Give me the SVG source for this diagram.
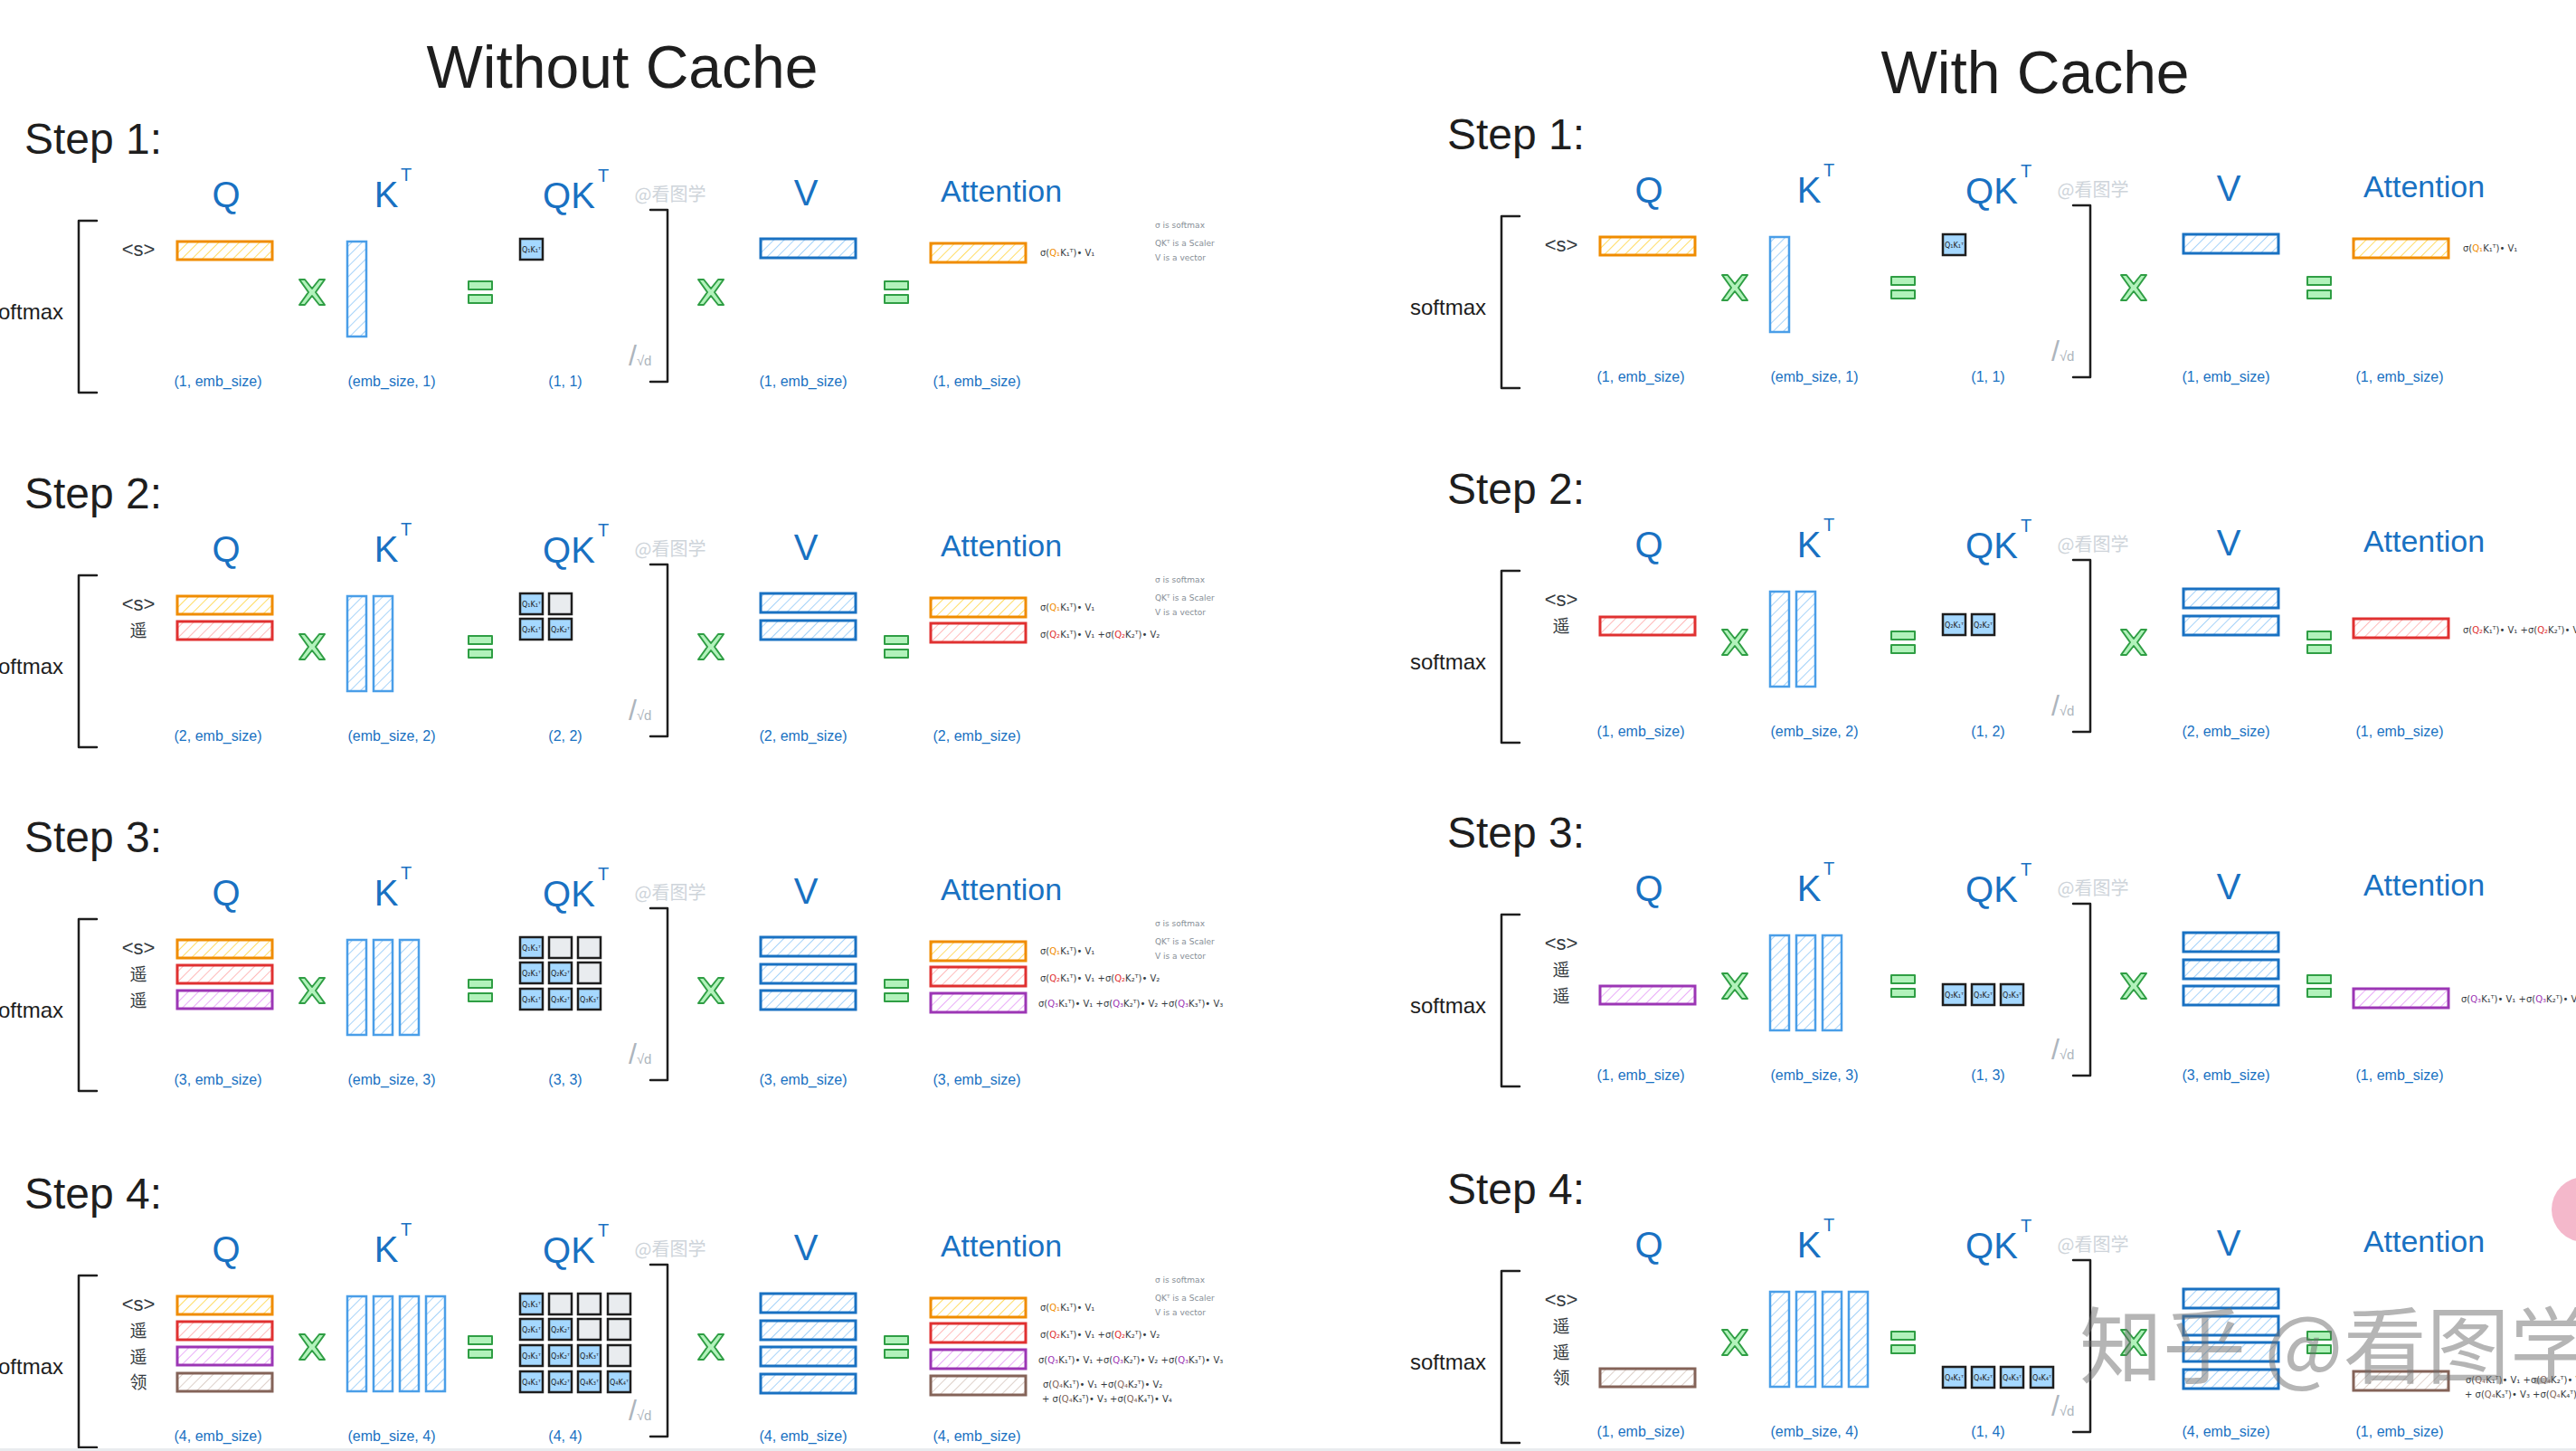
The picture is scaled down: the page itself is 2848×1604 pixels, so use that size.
<svg xmlns="http://www.w3.org/2000/svg" width="2848" height="1604" viewBox="0 0 2848 1604">
<style>
text{font-family:"Liberation Sans",Arial,sans-serif}
.title{font-size:66px;fill:#1e1e1e;text-anchor:middle}
.step{font-size:48px;fill:#1e1e1e}
.hdr{font-size:40px;fill:#1971c2;text-anchor:middle}
.att{font-size:34px}
.sup{font-size:20px;fill:#1971c2}
.wm{font-family:"Noto Sans CJK SC",sans-serif;font-size:20px;fill:#ced4da;text-anchor:middle}
.tok{font-size:22px;fill:#343a40;text-anchor:middle}
.cjk{font-family:"Noto Sans CJK SC",sans-serif;font-size:19px}
.dim{font-size:16px;fill:#1971c2;text-anchor:middle}
.sm{font-size:24px;fill:#1e1e1e;text-anchor:end}
.sq{fill:#adb5bd}
.brk{fill:none;stroke:#1e1e1e;stroke-width:2.5;stroke-linecap:round;stroke-linejoin:round}
.op{fill:#b2f2bb;stroke:#2f9e44;stroke-width:2;stroke-linejoin:round}
.bO{fill:url(#hO);stroke:#f08c00;stroke-width:3}
.bR{fill:url(#hR);stroke:#e03131;stroke-width:3}
.bP{fill:url(#hP);stroke:#9c36b5;stroke-width:3}
.bN{fill:url(#hN);stroke:#846358;stroke-width:3}
.bK{fill:url(#hB);stroke:#4a9ee8;stroke-width:2.5}
.bV{fill:url(#hB);stroke:#1971c2;stroke-width:3}
.cf{fill:#a5d8ff;stroke:#1e1e1e;stroke-width:2.5}
.ce{fill:#e9ecef;stroke:#1e1e1e;stroke-width:2.5}
.ct{font-family:"DejaVu Sans",sans-serif;font-size:8px;fill:#1e1e1e;text-anchor:middle}
.f{font-family:"DejaVu Sans",sans-serif;font-size:10px;fill:#343a40}
.note{font-family:"DejaVu Sans",sans-serif;font-size:9px;fill:#868e96}
.qo{fill:#f08c00}.qr{fill:#e03131}.qp{fill:#9c36b5}.qn{fill:#846358}
.big{font-family:"Noto Sans CJK SC",sans-serif;font-size:92px;fill:#6c6c6c;fill-opacity:0.5}
</style>
<defs>
<pattern id="hO" width="8" height="8" patternUnits="userSpaceOnUse" patternTransform="rotate(45)"><rect width="8" height="8" fill="#fff"/><line x1="0" y1="0" x2="0" y2="8" stroke="#ffd43b" stroke-width="1.6"/></pattern>
<pattern id="hR" width="8" height="8" patternUnits="userSpaceOnUse" patternTransform="rotate(45)"><rect width="8" height="8" fill="#fff"/><line x1="0" y1="0" x2="0" y2="8" stroke="#ffa8a8" stroke-width="1.6"/></pattern>
<pattern id="hP" width="8" height="8" patternUnits="userSpaceOnUse" patternTransform="rotate(45)"><rect width="8" height="8" fill="#fff"/><line x1="0" y1="0" x2="0" y2="8" stroke="#e599f7" stroke-width="1.6"/></pattern>
<pattern id="hN" width="8" height="8" patternUnits="userSpaceOnUse" patternTransform="rotate(45)"><rect width="8" height="8" fill="#fff"/><line x1="0" y1="0" x2="0" y2="8" stroke="#d5c4bc" stroke-width="1.6"/></pattern>
<pattern id="hB" width="8" height="8" patternUnits="userSpaceOnUse" patternTransform="rotate(45)"><rect width="8" height="8" fill="#fff"/><line x1="0" y1="0" x2="0" y2="8" stroke="#90c8f8" stroke-width="1.6"/></pattern>
<path id="mul" class="op" d="M-14,-14 L-8,-14 L0,-4 L8,-14 L14,-14 L4,0 L14,14 L8,14 L0,4 L-8,14 L-14,14 L-4,0 Z"/>
<path id="eq" class="op" d="M-13,-12 H13 V-3 H-13 Z M-13,3 H13 V12 H-13 Z"/>
</defs>
<rect width="2848" height="1604" fill="#ffffff"/>

<text id="title-without" class="title" x="688" y="97">Without Cache</text>
<text id="title-with" class="title" x="2250" y="103">With Cache</text>

<!-- ===================== WITHOUT CACHE ===================== -->
<g id="without-cache">

<g id="L-step1">
<text class="step" x="27" y="170">Step 1:</text>
<g id="L1-headers"><text class="hdr" x="250" y="229">Q</text><text class="hdr" x="427" y="229">K</text><text class="sup" x="443" y="200">T</text><text class="hdr" x="629" y="230">QK</text><text class="sup" x="661" y="201">T</text><text class="wm" x="741" y="222">@看图学</text><text class="hdr" x="891" y="227">V</text><text class="hdr att" x="1107" y="223">Attention</text></g>
<g id="L1-softmax"><path class="brk" d="M107,244 H87 V434 H107"/><text class="sm" x="70" y="353">softmax</text><path class="brk" d="M719,232 H738 V422 H719"/><text class="sq" x="695" y="404"><tspan font-size="32">/</tspan><tspan font-size="15">√d</tspan></text></g>
<g id="L1-tokens"><text class="tok" x="153" y="283">&lt;s&gt;</text></g>
<g id="L1-Q"><rect class="bO" x="196" y="267" width="105" height="20"/></g>
<g id="L1-mul1"><use href="#mul" x="345" y="323"/></g>
<g id="L1-K"><rect class="bK" x="384" y="267" width="21" height="105"/></g>
<g id="L1-eq1"><use href="#eq" x="531" y="323"/></g>
<g id="L1-QK"><rect class="cf" x="575" y="264" width="25" height="23"/><text class="ct" x="587.5" y="279">Q₁K₁ᵀ</text></g>
<g id="L1-mul2"><use href="#mul" x="786" y="323"/></g>
<g id="L1-V"><rect class="bV" x="841" y="264" width="105" height="21"/></g>
<g id="L1-eq2"><use href="#eq" x="991" y="323"/></g>
<g id="L1-Att"><rect class="bO" x="1029" y="269" width="105" height="21"/></g>
<g id="L1-formula"><text class="f" x="1150" y="283">σ(<tspan class="qo">Q₁</tspan>K₁ᵀ)• V₁</text></g>
<g id="L1-notes"><text class="note" x="1277" y="252">σ is softmax</text><text class="note" x="1277" y="272">QKᵀ is a Scaler</text><text class="note" x="1277" y="288">V is a vector</text></g>
<g id="L1-dims"><text class="dim" x="241" y="427">(1, emb_size)</text><text class="dim" x="433" y="427">(emb_size, 1)</text><text class="dim" x="625" y="427">(1, 1)</text><text class="dim" x="888" y="427">(1, emb_size)</text><text class="dim" x="1080" y="427">(1, emb_size)</text></g>
</g>

<g id="L-step2" transform="translate(0,392)">
<text class="step" x="27" y="170">Step 2:</text>
<g id="L2-headers"><text class="hdr" x="250" y="229">Q</text><text class="hdr" x="427" y="229">K</text><text class="sup" x="443" y="200">T</text><text class="hdr" x="629" y="230">QK</text><text class="sup" x="661" y="201">T</text><text class="wm" x="741" y="222">@看图学</text><text class="hdr" x="891" y="227">V</text><text class="hdr att" x="1107" y="223">Attention</text></g>
<g id="L2-softmax"><path class="brk" d="M107,244 H87 V434 H107"/><text class="sm" x="70" y="353">softmax</text><path class="brk" d="M719,232 H738 V422 H719"/><text class="sq" x="695" y="404"><tspan font-size="32">/</tspan><tspan font-size="15">√d</tspan></text></g>
<g id="L2-tokens"><text class="tok" x="153" y="283">&lt;s&gt;</text><text class="tok cjk" x="153" y="312">遥</text></g>
<g id="L2-Q"><rect class="bO" x="196" y="267" width="105" height="20"/><rect class="bR" x="196" y="295" width="105" height="20"/></g>
<g id="L2-mul1"><use href="#mul" x="345" y="323"/></g>
<g id="L2-K"><rect class="bK" x="384" y="267" width="21" height="105"/><rect class="bK" x="413" y="267" width="21" height="105"/></g>
<g id="L2-eq1"><use href="#eq" x="531" y="323"/></g>
<g id="L2-QK">
<rect class="cf" x="575" y="264" width="25" height="23"/><text class="ct" x="587.5" y="279">Q₁K₁ᵀ</text><rect class="ce" x="607" y="264" width="25" height="23"/>
<rect class="cf" x="575" y="292" width="25" height="23"/><text class="ct" x="587.5" y="307">Q₂K₁ᵀ</text><rect class="cf" x="607" y="292" width="25" height="23"/><text class="ct" x="619.5" y="307">Q₂K₂ᵀ</text>
</g>
<g id="L2-mul2"><use href="#mul" x="786" y="323"/></g>
<g id="L2-V"><rect class="bV" x="841" y="264" width="105" height="21"/><rect class="bV" x="841" y="294" width="105" height="21"/></g>
<g id="L2-eq2"><use href="#eq" x="991" y="323"/></g>
<g id="L2-Att"><rect class="bO" x="1029" y="269" width="105" height="21"/><rect class="bR" x="1029" y="297" width="105" height="21"/></g>
<g id="L2-formula"><text class="f" x="1150" y="283">σ(<tspan class="qo">Q₁</tspan>K₁ᵀ)• V₁</text><text class="f" x="1150" y="313">σ(<tspan class="qr">Q₂</tspan>K₁ᵀ)• V₁ +σ(<tspan class="qr">Q₂</tspan>K₂ᵀ)• V₂</text></g>
<g id="L2-notes"><text class="note" x="1277" y="252">σ is softmax</text><text class="note" x="1277" y="272">QKᵀ is a Scaler</text><text class="note" x="1277" y="288">V is a vector</text></g>
<g id="L2-dims"><text class="dim" x="241" y="427">(2, emb_size)</text><text class="dim" x="433" y="427">(emb_size, 2)</text><text class="dim" x="625" y="427">(2, 2)</text><text class="dim" x="888" y="427">(2, emb_size)</text><text class="dim" x="1080" y="427">(2, emb_size)</text></g>
</g>

<g id="L-step3" transform="translate(0,772)">
<text class="step" x="27" y="170">Step 3:</text>
<g id="L3-headers"><text class="hdr" x="250" y="229">Q</text><text class="hdr" x="427" y="229">K</text><text class="sup" x="443" y="200">T</text><text class="hdr" x="629" y="230">QK</text><text class="sup" x="661" y="201">T</text><text class="wm" x="741" y="222">@看图学</text><text class="hdr" x="891" y="227">V</text><text class="hdr att" x="1107" y="223">Attention</text></g>
<g id="L3-softmax"><path class="brk" d="M107,244 H87 V434 H107"/><text class="sm" x="70" y="353">softmax</text><path class="brk" d="M719,232 H738 V422 H719"/><text class="sq" x="695" y="404"><tspan font-size="32">/</tspan><tspan font-size="15">√d</tspan></text></g>
<g id="L3-tokens"><text class="tok" x="153" y="283">&lt;s&gt;</text><text class="tok cjk" x="153" y="312">遥</text><text class="tok cjk" x="153" y="341">遥</text></g>
<g id="L3-Q"><rect class="bO" x="196" y="267" width="105" height="20"/><rect class="bR" x="196" y="295" width="105" height="20"/><rect class="bP" x="196" y="323" width="105" height="20"/></g>
<g id="L3-mul1"><use href="#mul" x="345" y="323"/></g>
<g id="L3-K"><rect class="bK" x="384" y="267" width="21" height="105"/><rect class="bK" x="413" y="267" width="21" height="105"/><rect class="bK" x="442" y="267" width="21" height="105"/></g>
<g id="L3-eq1"><use href="#eq" x="531" y="323"/></g>
<g id="L3-QK">
<rect class="cf" x="575" y="264" width="25" height="23"/><text class="ct" x="587.5" y="279">Q₁K₁ᵀ</text><rect class="ce" x="607" y="264" width="25" height="23"/><rect class="ce" x="639" y="264" width="25" height="23"/>
<rect class="cf" x="575" y="292" width="25" height="23"/><text class="ct" x="587.5" y="307">Q₂K₁ᵀ</text><rect class="cf" x="607" y="292" width="25" height="23"/><text class="ct" x="619.5" y="307">Q₂K₂ᵀ</text><rect class="ce" x="639" y="292" width="25" height="23"/>
<rect class="cf" x="575" y="321" width="25" height="23"/><text class="ct" x="587.5" y="336">Q₃K₁ᵀ</text><rect class="cf" x="607" y="321" width="25" height="23"/><text class="ct" x="619.5" y="336">Q₃K₂ᵀ</text><rect class="cf" x="639" y="321" width="25" height="23"/><text class="ct" x="651.5" y="336">Q₃K₃ᵀ</text>
</g>
<g id="L3-mul2"><use href="#mul" x="786" y="323"/></g>
<g id="L3-V"><rect class="bV" x="841" y="264" width="105" height="21"/><rect class="bV" x="841" y="294" width="105" height="21"/><rect class="bV" x="841" y="323" width="105" height="21"/></g>
<g id="L3-eq2"><use href="#eq" x="991" y="323"/></g>
<g id="L3-Att"><rect class="bO" x="1029" y="269" width="105" height="21"/><rect class="bR" x="1029" y="297" width="105" height="21"/><rect class="bP" x="1029" y="326" width="105" height="21"/></g>
<g id="L3-formula"><text class="f" x="1150" y="283">σ(<tspan class="qo">Q₁</tspan>K₁ᵀ)• V₁</text><text class="f" x="1150" y="313">σ(<tspan class="qr">Q₂</tspan>K₁ᵀ)• V₁ +σ(<tspan class="qr">Q₂</tspan>K₂ᵀ)• V₂</text><text class="f" x="1148" y="341">σ(<tspan class="qp">Q₃</tspan>K₁ᵀ)• V₁ +σ(<tspan class="qp">Q₃</tspan>K₂ᵀ)• V₂ +σ(<tspan class="qp">Q₃</tspan>K₃ᵀ)• V₃</text></g>
<g id="L3-notes"><text class="note" x="1277" y="252">σ is softmax</text><text class="note" x="1277" y="272">QKᵀ is a Scaler</text><text class="note" x="1277" y="288">V is a vector</text></g>
<g id="L3-dims"><text class="dim" x="241" y="427">(3, emb_size)</text><text class="dim" x="433" y="427">(emb_size, 3)</text><text class="dim" x="625" y="427">(3, 3)</text><text class="dim" x="888" y="427">(3, emb_size)</text><text class="dim" x="1080" y="427">(3, emb_size)</text></g>
</g>

<g id="L-step4" transform="translate(0,1166)">
<text class="step" x="27" y="170">Step 4:</text>
<g id="L4-headers"><text class="hdr" x="250" y="229">Q</text><text class="hdr" x="427" y="229">K</text><text class="sup" x="443" y="200">T</text><text class="hdr" x="629" y="230">QK</text><text class="sup" x="661" y="201">T</text><text class="wm" x="741" y="222">@看图学</text><text class="hdr" x="891" y="227">V</text><text class="hdr att" x="1107" y="223">Attention</text></g>
<g id="L4-softmax"><path class="brk" d="M107,244 H87 V434 H107"/><text class="sm" x="70" y="353">softmax</text><path class="brk" d="M719,232 H738 V422 H719"/><text class="sq" x="695" y="404"><tspan font-size="32">/</tspan><tspan font-size="15">√d</tspan></text></g>
<g id="L4-tokens"><text class="tok" x="153" y="283">&lt;s&gt;</text><text class="tok cjk" x="153" y="312">遥</text><text class="tok cjk" x="153" y="341">遥</text><text class="tok cjk" x="153" y="369">领</text></g>
<g id="L4-Q"><rect class="bO" x="196" y="267" width="105" height="20"/><rect class="bR" x="196" y="295" width="105" height="20"/><rect class="bP" x="196" y="323" width="105" height="20"/><rect class="bN" x="196" y="352" width="105" height="20"/></g>
<g id="L4-mul1"><use href="#mul" x="345" y="323"/></g>
<g id="L4-K"><rect class="bK" x="384" y="267" width="21" height="105"/><rect class="bK" x="413" y="267" width="21" height="105"/><rect class="bK" x="442" y="267" width="21" height="105"/><rect class="bK" x="471" y="267" width="21" height="105"/></g>
<g id="L4-eq1"><use href="#eq" x="531" y="323"/></g>
<g id="L4-QK">
<rect class="cf" x="575" y="264" width="25" height="23"/><text class="ct" x="587.5" y="279">Q₁K₁ᵀ</text><rect class="ce" x="607" y="264" width="25" height="23"/><rect class="ce" x="639" y="264" width="25" height="23"/><rect class="ce" x="672" y="264" width="25" height="23"/>
<rect class="cf" x="575" y="292" width="25" height="23"/><text class="ct" x="587.5" y="307">Q₂K₁ᵀ</text><rect class="cf" x="607" y="292" width="25" height="23"/><text class="ct" x="619.5" y="307">Q₂K₂ᵀ</text><rect class="ce" x="639" y="292" width="25" height="23"/><rect class="ce" x="672" y="292" width="25" height="23"/>
<rect class="cf" x="575" y="321" width="25" height="23"/><text class="ct" x="587.5" y="336">Q₃K₁ᵀ</text><rect class="cf" x="607" y="321" width="25" height="23"/><text class="ct" x="619.5" y="336">Q₃K₂ᵀ</text><rect class="cf" x="639" y="321" width="25" height="23"/><text class="ct" x="651.5" y="336">Q₃K₃ᵀ</text><rect class="ce" x="672" y="321" width="25" height="23"/>
<rect class="cf" x="575" y="350" width="25" height="23"/><text class="ct" x="587.5" y="365">Q₄K₁ᵀ</text><rect class="cf" x="607" y="350" width="25" height="23"/><text class="ct" x="619.5" y="365">Q₄K₂ᵀ</text><rect class="cf" x="639" y="350" width="25" height="23"/><text class="ct" x="651.5" y="365">Q₄K₃ᵀ</text><rect class="cf" x="672" y="350" width="25" height="23"/><text class="ct" x="684.5" y="365">Q₄K₄ᵀ</text>
</g>
<g id="L4-mul2"><use href="#mul" x="786" y="323"/></g>
<g id="L4-V"><rect class="bV" x="841" y="264" width="105" height="21"/><rect class="bV" x="841" y="294" width="105" height="21"/><rect class="bV" x="841" y="323" width="105" height="21"/><rect class="bV" x="841" y="353" width="105" height="21"/></g>
<g id="L4-eq2"><use href="#eq" x="991" y="323"/></g>
<g id="L4-Att"><rect class="bO" x="1029" y="269" width="105" height="21"/><rect class="bR" x="1029" y="297" width="105" height="21"/><rect class="bP" x="1029" y="326" width="105" height="21"/><rect class="bN" x="1029" y="355" width="105" height="21"/></g>
<g id="L4-formula"><text class="f" x="1150" y="283">σ(<tspan class="qo">Q₁</tspan>K₁ᵀ)• V₁</text><text class="f" x="1150" y="313">σ(<tspan class="qr">Q₂</tspan>K₁ᵀ)• V₁ +σ(<tspan class="qr">Q₂</tspan>K₂ᵀ)• V₂</text><text class="f" x="1148" y="341">σ(<tspan class="qp">Q₃</tspan>K₁ᵀ)• V₁ +σ(<tspan class="qp">Q₃</tspan>K₂ᵀ)• V₂ +σ(<tspan class="qp">Q₃</tspan>K₃ᵀ)• V₃</text><text class="f" x="1153" y="368">σ(<tspan class="qn">Q₄</tspan>K₁ᵀ)• V₁ +σ(<tspan class="qn">Q₄</tspan>K₂ᵀ)• V₂</text><text class="f" x="1152" y="384">+ σ(<tspan class="qn">Q₄</tspan>K₃ᵀ)• V₃ +σ(<tspan class="qn">Q₄</tspan>K₄ᵀ)• V₄</text></g>
<g id="L4-notes"><text class="note" x="1277" y="252">σ is softmax</text><text class="note" x="1277" y="272">QKᵀ is a Scaler</text><text class="note" x="1277" y="288">V is a vector</text></g>
<g id="L4-dims"><text class="dim" x="241" y="427">(4, emb_size)</text><text class="dim" x="433" y="427">(emb_size, 4)</text><text class="dim" x="625" y="427">(4, 4)</text><text class="dim" x="888" y="427">(4, emb_size)</text><text class="dim" x="1080" y="427">(4, emb_size)</text></g>
</g>
</g>

<!-- ===================== WITH CACHE ===================== -->
<g id="with-cache" transform="translate(1573,-5)">

<g id="R-step1">
<text class="step" x="27" y="170">Step 1:</text>
<g id="R1-headers"><text class="hdr" x="250" y="229">Q</text><text class="hdr" x="427" y="229">K</text><text class="sup" x="443" y="200">T</text><text class="hdr" x="629" y="230">QK</text><text class="sup" x="661" y="201">T</text><text class="wm" x="741" y="222">@看图学</text><text class="hdr" x="891" y="227">V</text><text class="hdr att" x="1107" y="223">Attention</text></g>
<g id="R1-softmax"><path class="brk" d="M107,244 H87 V434 H107"/><text class="sm" x="70" y="353">softmax</text><path class="brk" d="M719,232 H738 V422 H719"/><text class="sq" x="695" y="404"><tspan font-size="32">/</tspan><tspan font-size="15">√d</tspan></text></g>
<g id="R1-tokens"><text class="tok" x="153" y="283">&lt;s&gt;</text></g>
<g id="R1-Q"><rect class="bO" x="196" y="267" width="105" height="20"/></g>
<g id="R1-mul1"><use href="#mul" x="345" y="323"/></g>
<g id="R1-K"><rect class="bK" x="384" y="267" width="21" height="105"/></g>
<g id="R1-eq1"><use href="#eq" x="531" y="323"/></g>
<g id="R1-QK"><rect class="cf" x="575" y="264" width="25" height="23"/><text class="ct" x="587.5" y="279">Q₁K₁ᵀ</text></g>
<g id="R1-mul2"><use href="#mul" x="786" y="323"/></g>
<g id="R1-V"><rect class="bV" x="841" y="264" width="105" height="21"/></g>
<g id="R1-eq2"><use href="#eq" x="991" y="323"/></g>
<g id="R1-Att"><rect class="bO" x="1029" y="269" width="105" height="21"/></g>
<g id="R1-formula"><text class="f" x="1150" y="283">σ(<tspan class="qo">Q₁</tspan>K₁ᵀ)• V₁</text></g>
<g id="R1-dims"><text class="dim" x="241" y="427">(1, emb_size)</text><text class="dim" x="433" y="427">(emb_size, 1)</text><text class="dim" x="625" y="427">(1, 1)</text><text class="dim" x="888" y="427">(1, emb_size)</text><text class="dim" x="1080" y="427">(1, emb_size)</text></g>
</g>

<g id="R-step2" transform="translate(0,392)">
<text class="step" x="27" y="170">Step 2:</text>
<g id="R2-headers"><text class="hdr" x="250" y="229">Q</text><text class="hdr" x="427" y="229">K</text><text class="sup" x="443" y="200">T</text><text class="hdr" x="629" y="230">QK</text><text class="sup" x="661" y="201">T</text><text class="wm" x="741" y="222">@看图学</text><text class="hdr" x="891" y="227">V</text><text class="hdr att" x="1107" y="223">Attention</text></g>
<g id="R2-softmax"><path class="brk" d="M107,244 H87 V434 H107"/><text class="sm" x="70" y="353">softmax</text><path class="brk" d="M719,232 H738 V422 H719"/><text class="sq" x="695" y="404"><tspan font-size="32">/</tspan><tspan font-size="15">√d</tspan></text></g>
<g id="R2-tokens"><text class="tok" x="153" y="283">&lt;s&gt;</text><text class="tok cjk" x="153" y="312">遥</text></g>
<g id="R2-Q"><rect class="bR" x="196" y="295" width="105" height="20"/></g>
<g id="R2-mul1"><use href="#mul" x="345" y="323"/></g>
<g id="R2-K"><rect class="bK" x="384" y="267" width="21" height="105"/><rect class="bK" x="413" y="267" width="21" height="105"/></g>
<g id="R2-eq1"><use href="#eq" x="531" y="323"/></g>
<g id="R2-QK"><rect class="cf" x="575" y="292" width="25" height="23"/><text class="ct" x="587.5" y="307">Q₂K₁ᵀ</text><rect class="cf" x="607" y="292" width="25" height="23"/><text class="ct" x="619.5" y="307">Q₂K₂ᵀ</text></g>
<g id="R2-mul2"><use href="#mul" x="786" y="323"/></g>
<g id="R2-V"><rect class="bV" x="841" y="264" width="105" height="21"/><rect class="bV" x="841" y="294" width="105" height="21"/></g>
<g id="R2-eq2"><use href="#eq" x="991" y="323"/></g>
<g id="R2-Att"><rect class="bR" x="1029" y="297" width="105" height="21"/></g>
<g id="R2-formula"><text class="f" x="1150" y="313">σ(<tspan class="qr">Q₂</tspan>K₁ᵀ)• V₁ +σ(<tspan class="qr">Q₂</tspan>K₂ᵀ)• V₂</text></g>
<g id="R2-dims"><text class="dim" x="241" y="427">(1, emb_size)</text><text class="dim" x="433" y="427">(emb_size, 2)</text><text class="dim" x="625" y="427">(1, 2)</text><text class="dim" x="888" y="427">(2, emb_size)</text><text class="dim" x="1080" y="427">(1, emb_size)</text></g>
</g>

<g id="R-step3" transform="translate(0,772)">
<text class="step" x="27" y="170">Step 3:</text>
<g id="R3-headers"><text class="hdr" x="250" y="229">Q</text><text class="hdr" x="427" y="229">K</text><text class="sup" x="443" y="200">T</text><text class="hdr" x="629" y="230">QK</text><text class="sup" x="661" y="201">T</text><text class="wm" x="741" y="222">@看图学</text><text class="hdr" x="891" y="227">V</text><text class="hdr att" x="1107" y="223">Attention</text></g>
<g id="R3-softmax"><path class="brk" d="M107,244 H87 V434 H107"/><text class="sm" x="70" y="353">softmax</text><path class="brk" d="M719,232 H738 V422 H719"/><text class="sq" x="695" y="404"><tspan font-size="32">/</tspan><tspan font-size="15">√d</tspan></text></g>
<g id="R3-tokens"><text class="tok" x="153" y="283">&lt;s&gt;</text><text class="tok cjk" x="153" y="312">遥</text><text class="tok cjk" x="153" y="341">遥</text></g>
<g id="R3-Q"><rect class="bP" x="196" y="323" width="105" height="20"/></g>
<g id="R3-mul1"><use href="#mul" x="345" y="323"/></g>
<g id="R3-K"><rect class="bK" x="384" y="267" width="21" height="105"/><rect class="bK" x="413" y="267" width="21" height="105"/><rect class="bK" x="442" y="267" width="21" height="105"/></g>
<g id="R3-eq1"><use href="#eq" x="531" y="323"/></g>
<g id="R3-QK"><rect class="cf" x="575" y="321" width="25" height="23"/><text class="ct" x="587.5" y="336">Q₃K₁ᵀ</text><rect class="cf" x="607" y="321" width="25" height="23"/><text class="ct" x="619.5" y="336">Q₃K₂ᵀ</text><rect class="cf" x="639" y="321" width="25" height="23"/><text class="ct" x="651.5" y="336">Q₃K₃ᵀ</text></g>
<g id="R3-mul2"><use href="#mul" x="786" y="323"/></g>
<g id="R3-V"><rect class="bV" x="841" y="264" width="105" height="21"/><rect class="bV" x="841" y="294" width="105" height="21"/><rect class="bV" x="841" y="323" width="105" height="21"/></g>
<g id="R3-eq2"><use href="#eq" x="991" y="323"/></g>
<g id="R3-Att"><rect class="bP" x="1029" y="326" width="105" height="21"/></g>
<g id="R3-formula"><text class="f" x="1148" y="341">σ(<tspan class="qp">Q₃</tspan>K₁ᵀ)• V₁ +σ(<tspan class="qp">Q₃</tspan>K₂ᵀ)• V₂ +σ(<tspan class="qp">Q₃</tspan>K₃ᵀ)• V₃</text></g>
<g id="R3-dims"><text class="dim" x="241" y="427">(1, emb_size)</text><text class="dim" x="433" y="427">(emb_size, 3)</text><text class="dim" x="625" y="427">(1, 3)</text><text class="dim" x="888" y="427">(3, emb_size)</text><text class="dim" x="1080" y="427">(1, emb_size)</text></g>
</g>

<g id="R-step4" transform="translate(0,1166)">
<text class="step" x="27" y="170">Step 4:</text>
<g id="R4-headers"><text class="hdr" x="250" y="229">Q</text><text class="hdr" x="427" y="229">K</text><text class="sup" x="443" y="200">T</text><text class="hdr" x="629" y="230">QK</text><text class="sup" x="661" y="201">T</text><text class="wm" x="741" y="222">@看图学</text><text class="hdr" x="891" y="227">V</text><text class="hdr att" x="1107" y="223">Attention</text></g>
<g id="R4-softmax"><path class="brk" d="M107,244 H87 V434 H107"/><text class="sm" x="70" y="353">softmax</text><path class="brk" d="M719,232 H738 V422 H719"/><text class="sq" x="695" y="404"><tspan font-size="32">/</tspan><tspan font-size="15">√d</tspan></text></g>
<g id="R4-tokens"><text class="tok" x="153" y="283">&lt;s&gt;</text><text class="tok cjk" x="153" y="312">遥</text><text class="tok cjk" x="153" y="341">遥</text><text class="tok cjk" x="153" y="369">领</text></g>
<g id="R4-Q"><rect class="bN" x="196" y="352" width="105" height="20"/></g>
<g id="R4-mul1"><use href="#mul" x="345" y="323"/></g>
<g id="R4-K"><rect class="bK" x="384" y="267" width="21" height="105"/><rect class="bK" x="413" y="267" width="21" height="105"/><rect class="bK" x="442" y="267" width="21" height="105"/><rect class="bK" x="471" y="267" width="21" height="105"/></g>
<g id="R4-eq1"><use href="#eq" x="531" y="323"/></g>
<g id="R4-QK"><rect class="cf" x="575" y="350" width="25" height="23"/><text class="ct" x="587.5" y="365">Q₄K₁ᵀ</text><rect class="cf" x="607" y="350" width="25" height="23"/><text class="ct" x="619.5" y="365">Q₄K₂ᵀ</text><rect class="cf" x="639" y="350" width="25" height="23"/><text class="ct" x="651.5" y="365">Q₄K₃ᵀ</text><rect class="cf" x="672" y="350" width="25" height="23"/><text class="ct" x="684.5" y="365">Q₄K₄ᵀ</text></g>
<g id="R4-mul2"><use href="#mul" x="786" y="323"/></g>
<g id="R4-V"><rect class="bV" x="841" y="264" width="105" height="21"/><rect class="bV" x="841" y="294" width="105" height="21"/><rect class="bV" x="841" y="323" width="105" height="21"/><rect class="bV" x="841" y="353" width="105" height="21"/></g>
<g id="R4-eq2"><use href="#eq" x="991" y="323"/></g>
<g id="R4-Att"><rect class="bN" x="1029" y="355" width="105" height="21"/></g>
<g id="R4-formula"><text class="f" x="1153" y="368">σ(<tspan class="qn">Q₄</tspan>K₁ᵀ)• V₁ +σ(<tspan class="qn">Q₄</tspan>K₂ᵀ)• V₂</text><text class="f" x="1152" y="384">+ σ(<tspan class="qn">Q₄</tspan>K₃ᵀ)• V₃ +σ(<tspan class="qn">Q₄</tspan>K₄ᵀ)• V₄</text></g>
<g id="R4-dims"><text class="dim" x="241" y="427">(1, emb_size)</text><text class="dim" x="433" y="427">(emb_size, 4)</text><text class="dim" x="625" y="427">(1, 4)</text><text class="dim" x="888" y="427">(4, emb_size)</text><text class="dim" x="1080" y="427">(1, emb_size)</text></g>
</g>
</g>

<g id="overlay">
<text class="big" x="2299" y="1522">知乎 @看图学</text>
<circle cx="2857" cy="1337" r="36" fill="#f4b8cb"/>
<rect x="0" y="1601" width="2848" height="3" fill="#e9ecef"/>
</g>
</svg>
